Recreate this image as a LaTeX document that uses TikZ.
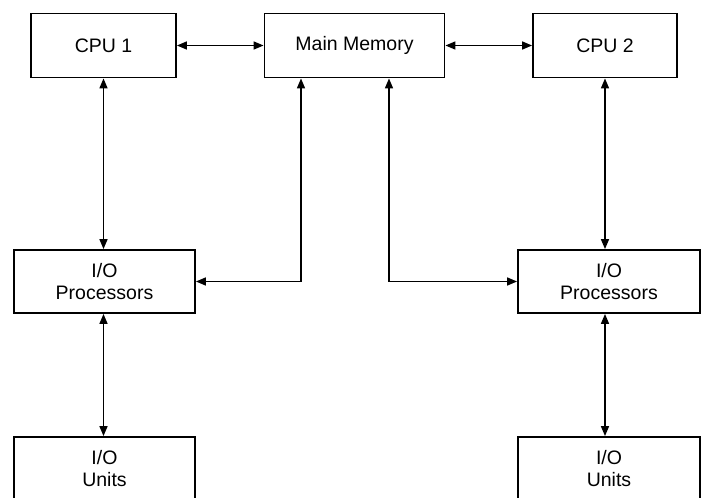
\documentclass[tikz,border=0pt]{standalone}
\usepackage{fontspec}
\setmainfont{Liberation Sans}
\usetikzlibrary{arrows.meta}
\begin{document}
\begin{tikzpicture}[x=1pt,y=-1pt,
  box/.style={draw, line width=1.8pt, rectangle, inner sep=0pt, align=center,
    font=\fontsize{19.5}{22}\selectfont},
  conn/.style={line width=1.6pt,
    {Triangle[length=10pt,width=8pt]}-{Triangle[length=10pt,width=8pt]}}]
\useasboundingbox (0,0) rectangle (702,498);
\fill[white] (0,0) rectangle (702,498);
\begin{scope}
\clip (0,0) rectangle (702,498);
\node[box, minimum width=145, minimum height=64] (CPU1) at (103.5,45.5) {CPU 1};
\node[box, minimum width=180, minimum height=64] (MM) at (354.5,45.5) {Main Memory};
\node[box, minimum width=144, minimum height=64] (CPU2) at (605,45.5) {CPU 2};
\node[box, minimum width=181, minimum height=63] (IOP1) at (104.5,281.5) {I/O\\Processors};
\node[box, minimum width=182, minimum height=63] (IOP2) at (609,281.5) {I/O\\Processors};
\node[box, minimum width=181, minimum height=64] (IOU1) at (104.5,469) {I/O\\Units};
\node[box, minimum width=182, minimum height=64] (IOU2) at (609,469) {I/O\\Units};
\draw[conn] (CPU1) -- (MM);
\draw[conn] (MM) -- (CPU2);
\draw[conn] (CPU1.south) -- (CPU1.south |- IOP1.north);
\draw[conn] ([xshift=-53.5pt]MM.south) |- (IOP1.east);
\draw[conn] ([xshift=34.5pt]MM.south) |- (IOP2.west);
\draw[conn] (CPU2.south) -- (CPU2.south |- IOP2.north);
\draw[conn] (IOP1.south -| CPU1.south) -- (CPU1.south |- IOU1.north);
\draw[conn] (IOP2.south -| CPU2.south) -- (CPU2.south |- IOU2.north);
\end{scope}
\end{tikzpicture}
\end{document}
